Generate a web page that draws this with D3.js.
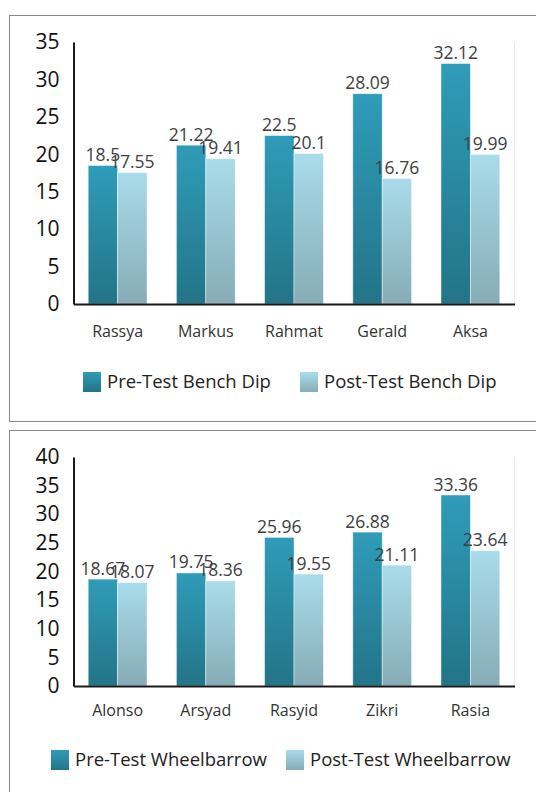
<!DOCTYPE html>
<html>
<head>
<meta charset="utf-8">
<script src="https://cdn.jsdelivr.net/npm/d3@7"></script>
<style>
  html, body { margin: 0; padding: 0; background: #fff; }
  svg { display: block; font-family: "Open Sans", "Noto Sans", sans-serif; }
</style>
</head>
<body>
<svg id="chart" width="536" height="792"></svg>
<script>
// Datos del primer gráfico (Bench Dip)
const benchNames = ['Rassya', 'Markus', 'Rahmat', 'Gerald', 'Aksa'];
const benchPre = [18.5, 21.22, 22.5, 28.09, 32.12];
const benchPost = [17.55, 19.41, 20.1, 16.76, 19.99];
const benchTicks = [0, 5, 10, 15, 20, 25, 30, 35];
const benchSeries = ['Pre-Test Bench Dip', 'Post-Test Bench Dip'];

// Datos del segundo gráfico (Wheelbarrow)
const wheelNames = ['Alonso', 'Arsyad', 'Rasyid', 'Zikri', 'Rasia'];
const wheelPre = [18.67, 19.75, 25.96, 26.88, 33.36];
const wheelPost = [18.07, 18.36, 19.55, 21.11, 23.64];
const wheelTicks = [0, 5, 10, 15, 20, 25, 30, 35, 40];
const wheelSeries = ['Pre-Test Wheelbarrow', 'Post-Test Wheelbarrow'];

const svg = d3.select('#chart');

// Degradados de las barras
const defs = svg.append('defs');
function addGradient(id, top, bottom) {
    const g = defs.append('linearGradient')
        .attr('id', id)
        .attr('x1', 0).attr('y1', 0)
        .attr('x2', 0).attr('y2', 1);
    g.append('stop').attr('offset', '0%').attr('stop-color', top);
    g.append('stop').attr('offset', '100%').attr('stop-color', bottom);
}
addGradient('gradPre', '#2f9cb9', '#237487');
addGradient('gradPost', '#a9dcea', '#86acb6');
const fills = ['url(#gradPre)', 'url(#gradPost)'];

function drawChart(opt) {
    const { names, pre, post, ticks, series, frame, top, bottom, xLabelY, legend } = opt;
    const left = 73.5, right = 514.5;

    // Marco del gráfico
    svg.append('rect')
        .attr('x', 9.5).attr('y', frame[0])
        .attr('width', 540).attr('height', frame[1] - frame[0])
        .attr('fill', 'none')
        .attr('stroke', '#8a8a8a')
        .attr('stroke-width', 1);

    const x = d3.scaleBand().domain(names).range([left, right]).padding(0);
    const xs = d3.scaleBand().domain([0, 1]).range([0, x.bandwidth()])
        .paddingInner(0).paddingOuter(0.5);
    const y = d3.scaleLinear().domain([0, d3.max(ticks)]).range([bottom, top]);

    // Línea derecha del área de trazado
    svg.append('line')
        .attr('x1', right).attr('x2', right)
        .attr('y1', top).attr('y2', bottom)
        .attr('stroke', '#ebebeb');

    const rows = names.map((n, i) => ({ name: n, values: [pre[i], post[i]] }));

    const groups = svg.append('g').selectAll('g')
        .data(rows).join('g')
        .attr('transform', d => `translate(${x(d.name)},0)`);

    groups.selectAll('rect')
        .data(d => d.values.map((v, k) => ({ v, k })))
        .join('rect')
        .attr('x', d => xs(d.k))
        .attr('y', d => y(d.v))
        .attr('width', xs.bandwidth())
        .attr('height', d => y(0) - y(d.v))
        .attr('fill', d => fills[d.k])
        .attr('stroke', 'rgba(255,255,255,0.55)')
        .attr('stroke-width', 0.8);

    // Etiquetas de datos
    groups.selectAll('text')
        .data(d => d.values.map((v, k) => ({ v, k })))
        .join('text')
        .attr('x', d => xs(d.k) + xs.bandwidth() / 2)
        .attr('y', d => y(d.v) - 4.5)
        .attr('text-anchor', 'middle')
        .attr('font-size', 17.5)
        .attr('fill', '#404040')
        .text(d => d.v);

    // Eje Y
    const yAxis = svg.append('g')
        .attr('transform', `translate(${left},0)`)
        .call(d3.axisLeft(y).tickValues(ticks).tickSize(0).tickPadding(14));
    yAxis.select('.domain').attr('stroke', '#1a1a1a').attr('stroke-width', 2);
    yAxis.selectAll('text')
        .attr('font-size', 21)
        .attr('font-family', '"Open Sans", sans-serif')
        .attr('fill', '#111');

    // Eje X
    const xAxis = svg.append('g')
        .attr('transform', `translate(0,${bottom})`)
        .call(d3.axisBottom(x).tickSize(0).tickPadding(0));
    xAxis.select('.domain').attr('stroke', '#1a1a1a').attr('stroke-width', 2);
    xAxis.selectAll('text')
        .attr('y', xLabelY - bottom)
        .attr('dy', '0.35em')
        .attr('font-size', 16)
        .attr('font-family', '"Open Sans", sans-serif')
        .attr('fill', '#333');

    // Leyenda
    const lg = svg.append('g');
    series.forEach((s, k) => {
        lg.append('rect')
            .attr('x', legend.x[k]).attr('y', legend.y - 10)
            .attr('width', 18).attr('height', 20)
            .attr('fill', fills[k]);
        lg.append('text')
            .attr('x', legend.x[k] + 24).attr('y', legend.y)
            .attr('dy', '0.35em')
            .attr('font-size', 18.5)
            .attr('fill', '#222')
            .text(s);
    });
}

drawChart({
    names: benchNames, pre: benchPre, post: benchPost, ticks: benchTicks, series: benchSeries,
    frame: [15.5, 421.5], top: 42, bottom: 304, xLabelY: 331,
    legend: { x: [83, 300], y: 382 }
});

drawChart({
    names: wheelNames, pre: wheelPre, post: wheelPost, ticks: wheelTicks, series: wheelSeries,
    frame: [430.5, 800], top: 457, bottom: 686, xLabelY: 710,
    legend: { x: [51, 286], y: 760 }
});
</script>
</body>
</html>
